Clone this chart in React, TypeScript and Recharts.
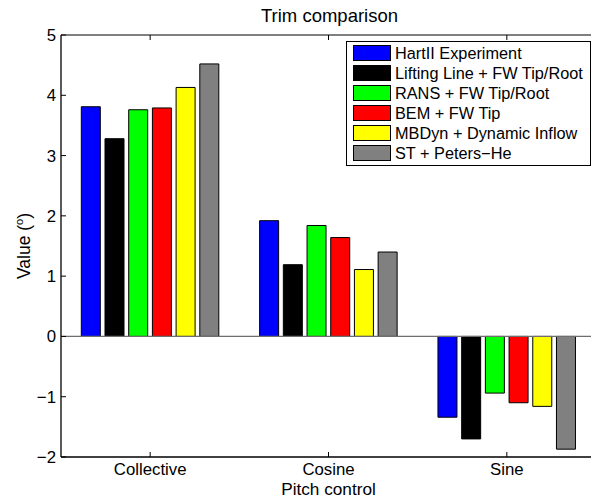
import React from 'react'
import { BarChart, Bar, XAxis, YAxis, Legend, ReferenceLine } from 'recharts'

const categories = ['Collective', 'Cosine', 'Sine']
const seriesNames = [
  'HartII Experiment',
  'Lifting Line + FW Tip/Root',
  'RANS + FW Tip/Root',
  'BEM + FW Tip',
  'MBDyn + Dynamic Inflow',
  'ST + Peters\u2212He',
]
const hartII = [3.81, 1.92, -1.34]
const liftingLine = [3.28, 1.19, -1.7]
const rans = [3.76, 1.84, -0.94]
const bem = [3.79, 1.64, -1.1]
const mbdyn = [4.13, 1.11, -1.16]
const stPeters = [4.52, 1.4, -1.87]
const yTicks = [-2, -1, 0, 1, 2, 3, 4, 5]
const colors = ['#0000ff', '#000000', '#00ff00', '#ff0000', '#ffff00', '#808080']

const seriesValues = [hartII, liftingLine, rans, bem, mbdyn, stPeters]
const keys = seriesNames.map((_, i) => `s${i}`)

const data = categories.map((name, ci) => {
  const row: any = { name }
  keys.forEach((k, si) => (row[k] = seriesValues[si][ci]))
  return row
})

const FONT = '"Liberation Sans", Arial, Helvetica, sans-serif'

const fmtTick = (v: number) => (v < 0 ? `\u2212${Math.abs(v)}` : String(v))

function YLabel({ viewBox }: any) {
  const cx = 29.5
  const cy = viewBox ? viewBox.y + viewBox.height / 2 : 247
  return (
    <text
      x={cx}
      y={cy}
      transform={`rotate(-90, ${cx}, ${cy})`}
      textAnchor="middle"
      fontSize={17.5}
      fontFamily={FONT}
      fill="#000"
    >
      Value (
      <tspan dy={-7} fontSize={11}>
        o
      </tspan>
      <tspan dy={7}>)</tspan>
    </text>
  )
}

function XLabel({ viewBox }: any) {
  const cx = viewBox ? viewBox.x + viewBox.width / 2 : 328
  return (
    <text x={cx} y={495} textAnchor="middle" fontSize={17.2} fontFamily={FONT} fill="#000">
      Pitch control
    </text>
  )
}

// legend drawn from the series arrays so the order stays as in the figure
function LegendBox() {
  return (
    <div
      style={{
        border: '1px solid #000',
        background: '#fff',
        padding: '1px 0 2px 6px',
        width: 237,
        overflow: 'hidden',
        fontFamily: FONT,
        fontSize: 16.3,
        color: '#000',
        textAlign: 'left',
      }}
    >
      {seriesNames.map((n, i) => (
        <div key={n} style={{ display: 'flex', alignItems: 'center', height: 20, lineHeight: '20px' }}>
          <div
            style={{
              width: 36,
              height: 14,
              background: colors[i],
              border: '1px solid #000',
              marginRight: 4,
              flex: 'none',
            }}
          />
          <span style={{ whiteSpace: 'nowrap' }}>{n}</span>
        </div>
      ))}
    </div>
  )
}

export default function App() {
  return (
    <div style={{ width: 591, height: 499, overflow: 'hidden', position: 'relative', background: '#fff' }}>
      <style>{`body{margin:0;overflow:hidden;background:#fff}`}</style>
      <div
        style={{
          position: 'absolute',
          left: 0,
          width: 659,
          top: 6,
          textAlign: 'center',
          fontFamily: FONT,
          fontSize: 18.5,
          color: '#000',
          lineHeight: '20px',
        }}
      >
        Trim comparison
      </div>
      <BarChart
        width={600}
        height={499}
        data={data}
        margin={{ top: 5, right: 4, bottom: 0, left: 0 }}
        barCategoryGap={20.3}
        barGap={4.7}
      >
        <XAxis
          dataKey="name"
          xAxisId="bottom"
          orientation="bottom"
          height={42}
          stroke="#000"
          strokeWidth={1.3}
          tickSize={-5}
          tickMargin={11.5}
          tick={{ fill: '#000', fontSize: 16.8, fontFamily: FONT }}
          tickLine={{ stroke: '#000', strokeWidth: 1 }}
          label={<XLabel />}
        />
        <XAxis
          dataKey="name"
          xAxisId="top"
          orientation="top"
          height={30}
          stroke="#000"
          tickSize={-5}
          tickFormatter={() => ''}
          tickLine={{ stroke: '#000', strokeWidth: 1 }}
        />
        <YAxis
          domain={[-2, 5]}
          ticks={yTicks}
          width={61}
          stroke="#000"
          strokeWidth={1.3}
          tickSize={-5}
          tickMargin={10}
          tickFormatter={fmtTick}
          tick={{ fill: '#000', fontSize: 16.8, fontFamily: FONT }}
          tickLine={{ stroke: '#000', strokeWidth: 1 }}
          allowDataOverflow
          label={<YLabel />}
        />
        <Legend
          layout="horizontal"
          verticalAlign="middle"
          align="center"
          wrapperStyle={{ left: 346, top: 41, width: 245 }}
          content={<LegendBox />}
        />
        {keys.map((k, i) => (
          <Bar
            key={k}
            dataKey={k}
            xAxisId="bottom"
            name={seriesNames[i]}
            fill={colors[i]}
            stroke="#000"
            strokeWidth={1}
            isAnimationActive={false}
          />
        ))}
        <ReferenceLine y={0} xAxisId="bottom" stroke="#6e6e6e" strokeWidth={1.2} />
      </BarChart>
    </div>
  )
}
